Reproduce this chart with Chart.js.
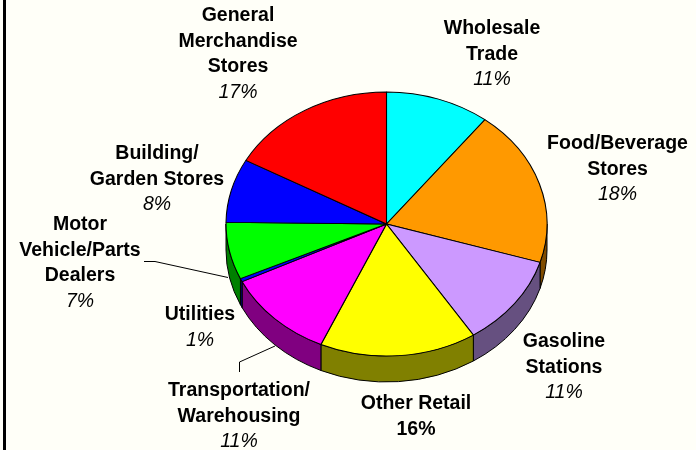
<!DOCTYPE html>
<html><head><meta charset="utf-8">
<style>html,body{margin:0;padding:0;background:#FFFFF8}canvas{display:block}</style>
<script src="https://cdn.jsdelivr.net/npm/chart.js@4"></script>
</head><body><canvas id="c" width="696" height="450"></canvas>
<script>
const categories = ["Wholesale Trade","Food/Beverage Stores","Gasoline Stations","Other Retail","Transportation/Warehousing","Utilities","Motor Vehicle/Parts Dealers","Building/Garden Stores","General Merchandise Stores"];
const shares = [10.5,19.2,11.2,15.8,11.1,0.4,7.0,7.8,17.0];
const percentLabels = ["11%","18%","11%","16%","11%","1%","7%","8%","17%"];
const nameLines = [["Wholesale","Trade"],["Food/Beverage","Stores"],["Gasoline","Stations"],["Other Retail"],["Transportation/","Warehousing"],["Utilities"],["Motor","Vehicle/Parts","Dealers"],["Building/","Garden Stores"],["General","Merchandise","Stores"]];
const topColors = ["#00FFFF","#FF9900","#CC99FF","#FFFF00","#FF00FF","#0000FF","#00FF00","#0000FF","#FF0000"];
const sideColors = ["#008080","#804C00","#665080","#808000","#800080","#000080","#008000","#000080","#800000"];
const labelAnchors = [[492,28.5],[617.5,143.5],[564,341.5],[416,403.5],[239,390.5],[200,314.5],[80,224.5],[157,153.5],[238,15.5]];
const pie3d = {cx:386.5, cy:224, rx:160.5, ry:132, depth:26};

const plugin = {
  id:'pie3d',
  beforeDatasetsDraw(chart){
    const ctx = chart.ctx, arcs = chart.getDatasetMeta(0).data, p = pie3d;
    // side wall, drawn from the library's own arc angles
    ctx.save();
    ctx.lineWidth = 1; ctx.strokeStyle = '#000';
    arcs.forEach((a,i)=>{
      const norm = t => { const two=Math.PI*2; return ((t%two)+two)%two; };
      let s = norm(a.startAngle), e = s + (a.endAngle-a.startAngle);
      const segs = [[s,e],[s-2*Math.PI,e-2*Math.PI]];
      segs.forEach(([s0,e0])=>{
        const from = Math.max(s0,0), to = Math.min(e0,Math.PI);
        if (to<=from) return;
        ctx.beginPath();
        ctx.ellipse(p.cx,p.cy,p.rx,p.ry,0,from,to,false);
        ctx.ellipse(p.cx,p.cy+p.depth,p.rx,p.ry,0,to,from,true);
        ctx.closePath();
        ctx.fillStyle = sideColors[i];
        ctx.fill(); ctx.stroke();
      });
    });
    ctx.restore();
    // top face: squash the library's circle onto the ellipse
    const a0 = arcs[0];
    ctx.save();
    ctx.translate(p.cx,p.cy);
    ctx.scale(p.rx/a0.outerRadius,p.ry/a0.outerRadius);
    ctx.translate(-a0.x,-a0.y);
  },
  afterDatasetsDraw(chart){
    const ctx = chart.ctx;
    ctx.restore();
    ctx.save();
    // frame
    ctx.fillStyle='#000';
    ctx.fillRect(3,0,3,450);
    // leader lines
    ctx.strokeStyle='#000'; ctx.lineWidth=1;
    ctx.beginPath();
    ctx.moveTo(144,261.5); ctx.lineTo(155,261.5); ctx.lineTo(228,277.5);
    ctx.moveTo(239.5,372); ctx.lineTo(239.5,362); ctx.lineTo(275,346);
    ctx.stroke();
    // labels
    ctx.textAlign='center'; ctx.textBaseline='middle'; ctx.fillStyle='#000';
    const lh=25.7;
    categories.forEach((c,i)=>{
      const [x,y]=labelAnchors[i];
      let yy=y;
      ctx.font='bold 19.5px "Liberation Sans", Arial, sans-serif';
      nameLines[i].forEach(l=>{ctx.fillText(l,x,yy); yy+=lh;});
      ctx.font=(i===3?'bold':'italic')+' 19.5px "Liberation Sans", Arial, sans-serif';
      ctx.fillText(percentLabels[i],x,yy);
    });
    ctx.restore();
  }
};

new Chart(document.getElementById('c'),{
  type:'pie',
  data:{labels:categories,datasets:[{data:shares,backgroundColor:topColors,borderColor:'#000',borderWidth:1.5,borderJoinStyle:'bevel'}]},
  options:{responsive:false,animation:false,devicePixelRatio:1,
    plugins:{legend:{display:false},tooltip:{enabled:false}},events:[]},
  plugins:[plugin]
});
</script></body></html>
